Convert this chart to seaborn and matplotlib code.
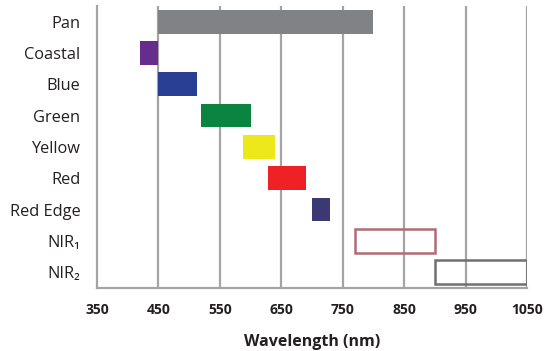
import seaborn as sns
import pandas as pd
import numpy as np
import matplotlib.pyplot as plt

# band wavelength ranges (nm)
bands = ['Pan', 'Coastal', 'Blue', 'Green', 'Yellow', 'Red', 'Red Edge', 'NIR\u2081', 'NIR\u2082']
starts = [450, 420, 450, 520, 588, 628, 700, 770, 900]
ends = [800, 450, 513, 600, 640, 690, 730, 900, 1050]
fills = ['#808285', '#662d8c', '#283f94', '#0b8440', '#ece81a', '#ee2224', '#3b3874', 'none', 'none']
edges = ['#808285', '#662d8c', '#283f94', '#0b8440', '#ece81a', '#ee2224', '#3b3874', '#b06a78', '#707070']
xticks = [350, 450, 550, 650, 750, 850, 950, 1050]

df = pd.DataFrame({'band': bands, 'start': starts, 'end': ends})

sns.set_style('white')
plt.rcParams['font.family'] = ['Open Sans', 'DejaVu Sans']

fig = plt.figure(figsize=(5.45, 3.51), dpi=100)
ax = fig.add_axes([0.178, 0.18, 0.789, 0.803])

sns.barplot(data=df, x='end', y='band', orient='h', width=0.76, ax=ax, zorder=3)

# move each bar to span start..end
for p, s, e, fc, ec in zip(ax.patches, df['start'], df['end'], fills, edges):
    p.set_x(s)
    p.set_width(e - s)
    p.set_facecolor(fc)
    p.set_edgecolor(ec)
    p.set_linewidth(1.8 if fc == 'none' else 0)

gc = '#a4a4a4'
ax.set_xlim(350, 1050)
ax.set_ylim(len(bands) - 0.5, -0.5)
ax.set_xticks(xticks)
ax.set_xticklabels([str(t) for t in xticks], fontweight='bold', fontsize=10, color='#231f20')
ax.set_yticks(range(len(bands)))
ax.set_yticklabels(bands, fontsize=11.8, color='#231f20')
ax.set_yticks(np.arange(-0.5, len(bands), 1), minor=True)
ax.tick_params(axis='y', which='major', length=0, pad=12)
ax.tick_params(axis='y', which='minor', length=5, direction='inout', color=gc, width=1.2)
ax.tick_params(axis='x', length=6, direction='inout', color=gc, width=1.2, pad=8)

for x in xticks[1:]:
    ax.axvline(x, color=gc, lw=1.6, zorder=1)

for side in ['top', 'right']:
    ax.spines[side].set_visible(False)
for side in ['left', 'bottom']:
    ax.spines[side].set_color(gc)
    ax.spines[side].set_linewidth(1.6)

ax.set_ylabel('')
ax.set_xlabel('Wavelength (nm)', fontweight='bold', fontsize=11.5, color='#231f20', labelpad=12)

plt.savefig('out.png', dpi=100)
